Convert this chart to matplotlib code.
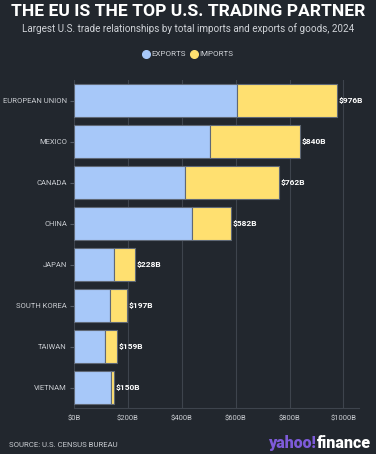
import numpy as np
import matplotlib
matplotlib.use("Agg")
from matplotlib import pyplot as plt
from matplotlib.lines import Line2D

countries = ["EUROPEAN UNION", "MEXICO", "CANADA", "CHINA", "JAPAN",
             "SOUTH KOREA", "TAIWAN", "VIETNAM"]
exports = [606, 506, 413, 439, 148, 132, 116, 137]
imports = [370, 334, 349, 143, 80, 65, 43, 13]
totals = ["$976B", "$840B", "$762B", "$582B", "$228B", "$197B", "$159B", "$150B"]
xticks = [0, 200, 400, 600, 800, 1000]
xlabels = ["$0B", "$200B", "$400B", "$600B", "$800B", "$1000B"]

BG = "#22272e"
BLUE = "#a7c8f9"
YELLOW = "#ffe070"
EDGE = "#5f6876"

plt.rcParams['font.family'] = ['Roboto', 'DejaVu Sans']

fig = plt.figure(figsize=(3.76, 4.54), dpi=100, facecolor=BG)
ax = fig.add_axes([74/376, 1 - 408/454, (359-74)/376, (408-80)/454])
ax.set_facecolor(BG)

y = np.arange(len(countries))
ax.barh(y, exports, height=0.8, color=BLUE, edgecolor=EDGE, linewidth=0.8, zorder=3)
ax.barh(y, imports, left=exports, height=0.8, color=YELLOW, edgecolor=EDGE,
        linewidth=0.8, zorder=3)
for i in range(len(countries)):
    ax.text(exports[i] + imports[i] + 6, y[i], totals[i], color="white",
            fontsize=6, fontweight="bold", va="center", ha="left")

ax.set_ylim(len(countries) - 0.5, -0.5)
ax.set_xlim(0, 1058)
ax.set_yticks(y)
ax.set_yticklabels(countries, color="#c9ccd1", fontsize=5.5)
ax.set_xticks(xticks)
ax.set_xticklabels(xlabels, color="#c9ccd1", fontsize=5.5)
ax.tick_params(axis="y", length=3, color="#555c66", pad=2)
ax.tick_params(axis="x", length=0, pad=5)
ax.grid(axis="x", color="#3e444d", linewidth=0.8, zorder=0)
for s in ["top", "right", "left"]:
    ax.spines[s].set_visible(False)
ax.spines["bottom"].set_color("#3e444d")

fig.text(0.5, 1 - 12/454, "THE EU IS THE TOP U.S. TRADING PARTNER", color="white",
         fontsize=12.6, fontweight="bold", ha="center", va="center")
fig.text(0.5, 1 - 29/454,
         "Largest U.S. trade relationships by total imports and exports of goods, 2024",
         color="#d0d3d8", fontsize=7.1, ha="center", va="center")

handles = [Line2D([], [], marker="o", ls="", color=BLUE, markersize=5.5),
           Line2D([], [], marker="o", ls="", color=YELLOW, markersize=5.5)]
fig.legend(handles, ["EXPORTS", "IMPORTS"], loc="center", bbox_to_anchor=(0.5, 1 - 54/454),
           ncol=2, frameon=False, fontsize=5.8, labelcolor="#d0d3d8",
           handletextpad=0.3, columnspacing=0.6, handlelength=0.8)

fig.text(9/376, 1 - 445/454, "SOURCE: U.S. CENSUS BUREAU", color="#c9ccd1",
         fontsize=5.6, ha="left", va="center")
fin = fig.text(371/376, 1 - 443/454, "finance", color="white", fontsize=11.5,
               fontweight="heavy", ha="right", va="center")
fig.canvas.draw()
bb = fin.get_window_extent()
fig.text(bb.x0 / fig.bbox.width, 1 - 443/454, "yahoo!", color="#7e5bd9", fontsize=11.5,
         fontweight="heavy", ha="right", va="center")

fig.savefig("out.png", dpi=100, facecolor=BG)
